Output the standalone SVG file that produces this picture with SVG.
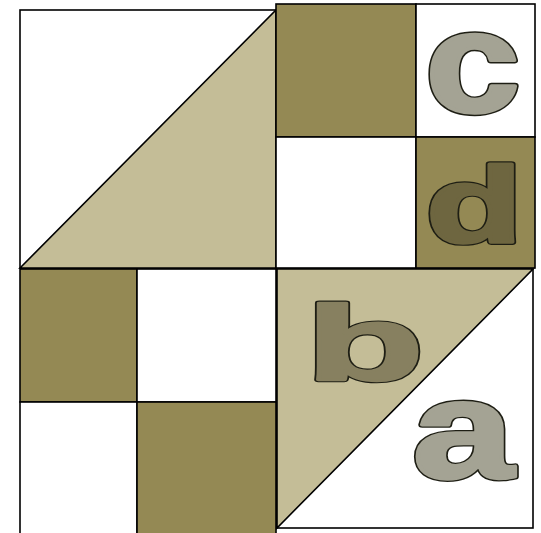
<svg xmlns="http://www.w3.org/2000/svg" xmlns:xlink="http://www.w3.org/1999/xlink" width="541" height="533" viewBox="0 0 541 533">
<style>
.w{fill:#ffffff;stroke:#000;stroke-width:1.6}
.o{fill:#948954;stroke:#000;stroke-width:1.6}
.t{fill:#c4bd97;stroke:#000;stroke-width:1.6}
.L{font-family:"Liberation Sans",Arial,sans-serif;font-weight:bold;text-anchor:middle;vector-effect:non-scaling-stroke;stroke-linejoin:round}
.edge{stroke:#1e1e14;stroke-width:7;fill:#1e1e14}
</style>
<defs>
<text id="gc" class="L" font-size="142.6" transform="translate(472.7,111.5) scale(1.19,1)">c</text>
<text id="gd" class="L" font-size="106.8" transform="translate(474.2,241.5) scale(1.48,1)">d</text>
<text id="gb" class="L" font-size="106.3" transform="translate(364.9,379.8) scale(1.82,1)">b</text>
<text id="ga" class="L" font-size="139" transform="translate(463.2,477.8) scale(1.31,1)">a</text>
</defs>
<rect x="0" y="0" width="541" height="533" fill="#ffffff"/>
<g id="top-left-triangles">
<rect class="w" x="20" y="10" width="256" height="258"/>
<polygon class="t" points="20,268 276,10 276,268"/>
</g>
<g id="top-right-block">
<rect class="o" x="276" y="4" width="140" height="133"/>
<rect class="w" x="416" y="4" width="119" height="133"/>
<rect class="w" x="276" y="137" width="140" height="131"/>
<rect class="o" x="416" y="137" width="119" height="131"/>
</g>
<g id="bottom-left-block">
<rect class="o" x="20" y="269" width="117" height="133"/>
<rect class="w" x="137" y="269" width="139" height="133"/>
<rect class="w" x="20" y="402" width="117" height="140"/>
<rect class="o" x="137" y="402" width="139" height="140"/>
</g>
<g id="bottom-right-triangles">
<rect class="w" x="277" y="269" width="256" height="259"/>
<polygon class="t" points="277,269 533,269 277,528"/>
</g>
<g id="label-c"><use xlink:href="#gc" class="edge"/><use xlink:href="#gc" fill="#a4a394" stroke="#a4a394" stroke-width="4"/></g>
<g id="label-d"><use xlink:href="#gd" class="edge"/><use xlink:href="#gd" fill="#6e6640" stroke="#6e6640" stroke-width="4"/></g>
<g id="label-b"><use xlink:href="#gb" class="edge"/><use xlink:href="#gb" fill="#878060" stroke="#878060" stroke-width="4"/></g>
<g id="label-a"><use xlink:href="#ga" class="edge"/><use xlink:href="#ga" fill="#a4a394" stroke="#a4a394" stroke-width="4"/></g>
</svg>
